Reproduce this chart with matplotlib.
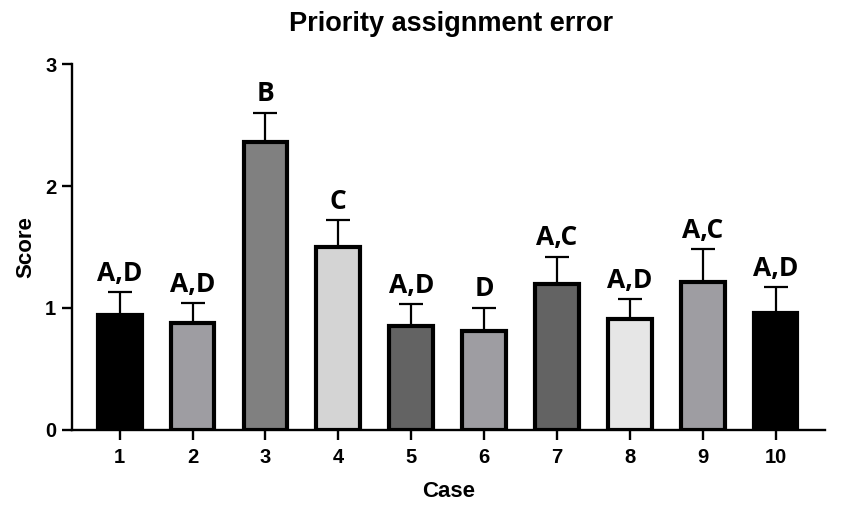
import numpy as np
import matplotlib.pyplot as plt

cases = ["1", "2", "3", "4", "5", "6", "7", "8", "9", "10"]
means = [0.94, 0.88, 2.36, 1.50, 0.85, 0.81, 1.20, 0.91, 1.21, 0.96]
errs = [0.19, 0.16, 0.24, 0.22, 0.18, 0.19, 0.22, 0.16, 0.27, 0.21]
letters = ["A,D", "A,D", "B", "C", "A,D", "D", "A,C", "A,D", "A,C", "A,D"]
colors = ["#000000", "#9e9da2", "#808080", "#d4d4d4", "#636363",
          "#9e9da2", "#636363", "#e6e6e6", "#9e9da2", "#000000"]

fig = plt.figure(figsize=(8.42, 5.13), dpi=100)
ax = fig.add_axes([0.085, 0.162, 0.895, 0.713])

x = np.arange(1, len(cases) + 1)
ax.bar(x, means, width=0.6, color=colors, edgecolor="black", linewidth=3, zorder=3)
ax.errorbar(x, means, yerr=[np.zeros(len(errs)), errs], fmt="none", ecolor="black",
            elinewidth=1.6, capsize=8.5, capthick=1.6, zorder=2)

for xi, m, e, lab in zip(x, means, errs, letters):
    ax.annotate(lab, (xi, m + e), xytext=(0, 4), textcoords="offset points",
                ha="center", va="bottom", fontsize=19, fontweight="bold",
                family="Open Sans")

ax.set_xlim(0.34, 10.68)
ax.set_ylim(0, 3)
ax.set_yticks([0, 1, 2, 3])
ax.set_xticks(x)
ax.set_xticklabels(cases)
ax.spines["top"].set_visible(False)
ax.spines["right"].set_visible(False)
for s in ["left", "bottom"]:
    ax.spines[s].set_linewidth(1.7)
ax.tick_params(width=1.7, length=7, labelsize=14.5)
ax.tick_params(axis="y", pad=4)
ax.tick_params(axis="x", pad=6)
for t in ax.get_xticklabels() + ax.get_yticklabels():
    t.set_fontweight("bold")
    t.set_family("Liberation Sans")

ax.set_xlabel("Case", fontsize=16, fontweight="bold", family="Liberation Sans", labelpad=10)
ax.set_ylabel("Score", fontsize=16, fontweight="bold", family="Liberation Sans", labelpad=6)
fig.suptitle("Priority assignment error", x=0.536, y=0.978, fontsize=19.5,
             fontweight="bold", family="Liberation Sans")

fig.savefig("out.png", dpi=100)
